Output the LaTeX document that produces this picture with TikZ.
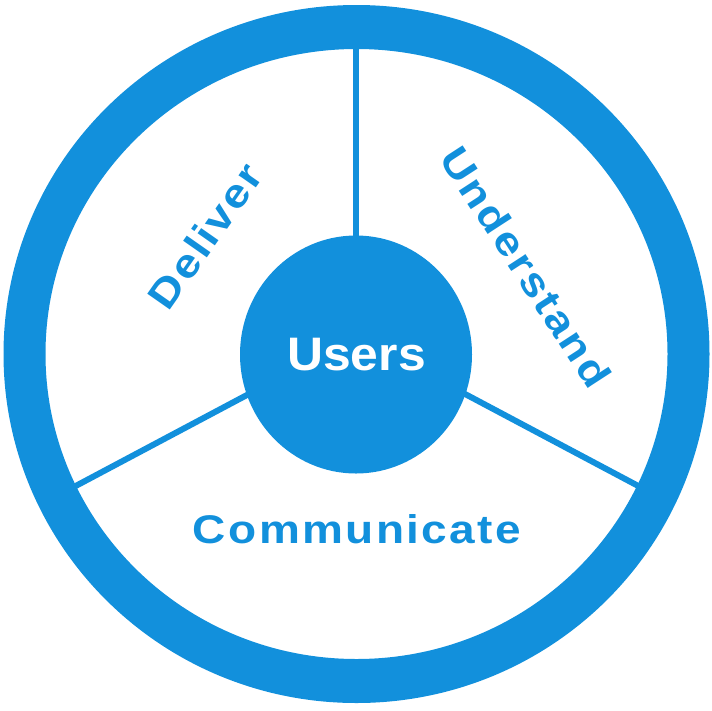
\documentclass[tikz,border=0pt]{standalone}
\usepackage{fontspec}
\setmainfont{Liberation Sans}
\usetikzlibrary{shapes.geometric}
\definecolor{ringblue}{RGB}{18,144,220}
\begin{document}
\begin{tikzpicture}[x=1pt,y=-1pt,
  spoke/.style={draw=ringblue,line width=6pt},
  seglabel/.style={text=ringblue,font=\bfseries\fontsize{40}{48}\selectfont\addfontfeature{FakeStretch=1.15,LetterSpace=6},inner sep=0pt}]
\useasboundingbox (0,0) rectangle (712,710);
% outer ring
\fill[ringblue,even odd rule] (356.5,354) ellipse [x radius=353,y radius=349]
  (356.5,354) ellipse [x radius=311,y radius=305];
% spoke end points
\coordinate (topin) at (356,46);
\coordinate (topout) at (356,250);
\coordinate (leftin) at (70,489);
\coordinate (leftout) at (262,387);
\coordinate (rightin) at (644,489);
\coordinate (rightout) at (450,386);
\draw[spoke] (topin) -- (topout);
\draw[spoke] (leftin) -- (leftout);
\draw[spoke] (rightin) -- (rightout);
% center
\node[ellipse,fill=ringblue,minimum width=232pt,minimum height=238pt,inner sep=0pt] (users) at (356,354.5) {};
\node[anchor=base,text=white,font=\bfseries\fontsize{47}{56}\selectfont\addfontfeature{FakeStretch=1.06},inner sep=0pt] (userstxt) at (356.5,370) {Users};
\node[seglabel,rotate=55] (deliver) at (205,236) {Deliver};
\node[seglabel,rotate=-57] (understand) at (526,267) {Understand};
\node[seglabel,anchor=base] (communicate) at (357,543) {Communicate};
\end{tikzpicture}
\end{document}
